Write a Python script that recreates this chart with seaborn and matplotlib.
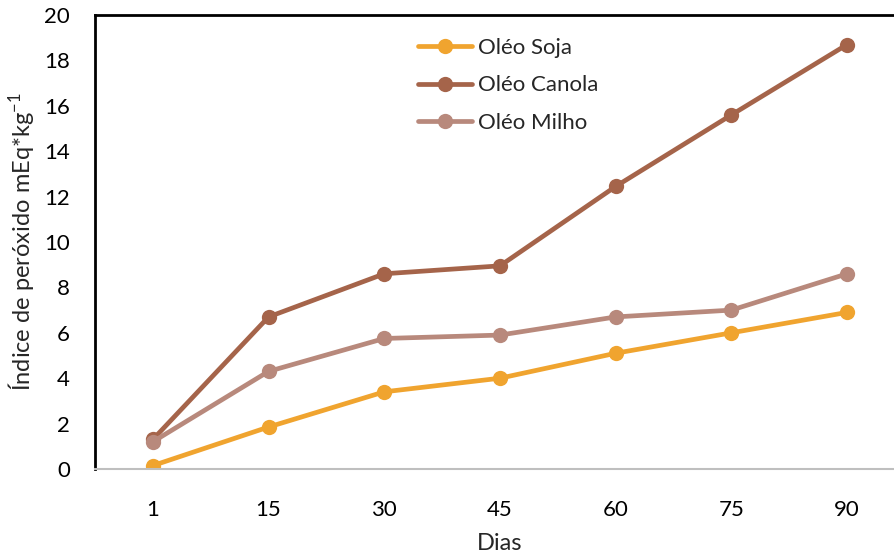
import matplotlib
matplotlib.use("Agg")
import matplotlib.pyplot as plt
import seaborn as sns
import pandas as pd

# Storage days and peroxide index per oil
dias = ["1", "15", "30", "45", "60", "75", "90"]
soja = [0.15, 1.85, 3.4, 4.0, 5.1, 6.0, 6.9]
canola = [1.3, 6.7, 8.6, 8.95, 12.45, 15.6, 18.7]
milho = [1.2, 4.3, 5.75, 5.9, 6.7, 7.0, 8.6]

series = {"Oléo Soja": soja, "Oléo Canola": canola, "Oléo Milho": milho}
cores = {"Oléo Soja": "#F0A42F", "Oléo Canola": "#A5644A", "Oléo Milho": "#B8897C"}

df = pd.DataFrame(
    [(d, nome, v) for nome, vals in series.items() for d, v in zip(dias, vals)],
    columns=["Dias", "Óleo", "Valor"],
)

sns.set_theme(style="white")
plt.rcParams["font.family"] = ["Lato", "DejaVu Sans"]
plt.rcParams["mathtext.fontset"] = "custom"
plt.rcParams["mathtext.rm"] = "Lato"
plt.rcParams["mathtext.it"] = "Lato"

fig = plt.figure(figsize=(8.95, 5.54), dpi=100)
ax = fig.add_axes([95 / 895, 1 - 469 / 554, 810 / 895, 454 / 554])

sns.lineplot(
    data=df, x="Dias", y="Valor", hue="Óleo", palette=cores,
    marker="o", markersize=11, markeredgewidth=0, linewidth=3.4,
    sort=False, ax=ax,
)

ax.set_xlim(-0.5, 6.5)
ax.set_ylim(0, 20)
ax.set_yticks(range(0, 21, 2))
ax.tick_params(axis="both", length=0, labelsize=16, colors="black")
ax.tick_params(axis="x", pad=22)
ax.tick_params(axis="y", pad=18)

for side in ["top", "left"]:
    ax.spines[side].set_color("black")
    ax.spines[side].set_linewidth(2)
ax.spines["bottom"].set_color("#BFBFBF")
ax.spines["bottom"].set_linewidth(1.5)
ax.spines["right"].set_visible(False)

ax.set_xlabel("Dias", fontsize=17, labelpad=10)
ax.set_ylabel("Índice de peróxido mEq*kg$^{-1}$", fontsize=17, labelpad=6)

leg = ax.legend(
    loc="upper left", bbox_to_anchor=(0.399, 0.95), frameon=False,
    fontsize=16, handlelength=2.4, labelspacing=0.8, handletextpad=0.3,
    borderaxespad=0, borderpad=0,
)
for h in leg.legend_handles:
    h.set_linewidth(3.4)
    h.set_markersize(11)

fig.savefig("out.png", dpi=100)
